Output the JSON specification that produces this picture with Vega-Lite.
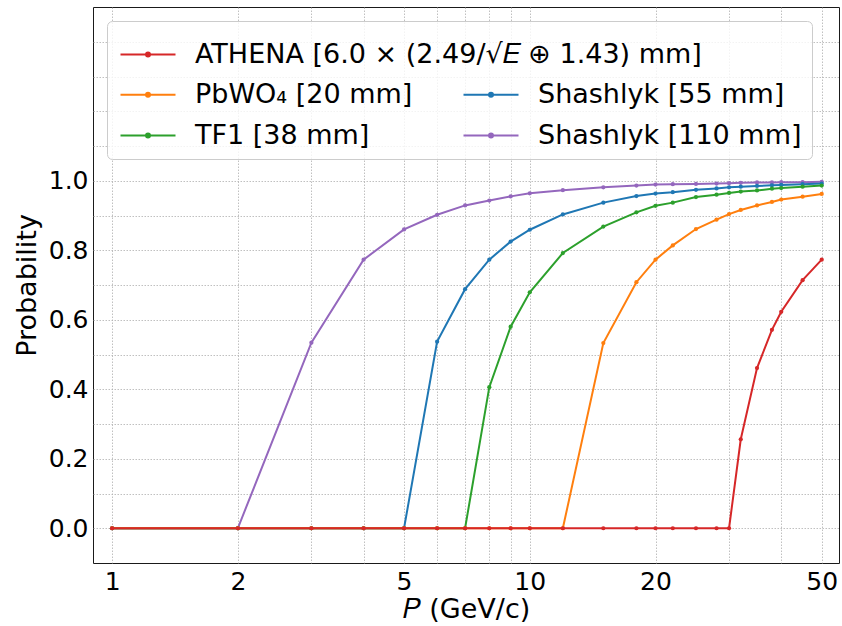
{
  "$schema": "https://vega.github.io/schema/vega-lite/v6.json",
  "width": 746,
  "height": 556,
  "autosize": {"type": "none"},
  "padding": {"left": 93, "top": 7, "right": 3, "bottom": 63},
  "background": "white",
  "config": {
    "font": "DejaVu Sans",
    "view": {"stroke": "#1a1a1a", "strokeWidth": 1},
    "axis": {
      "labelFont": "DejaVu Sans",
      "labelFontSize": 25,
      "labelColor": "#000000",
      "titleFont": "DejaVu Sans",
      "titleFontSize": 27,
      "titleFontWeight": "normal",
      "titleColor": "#000000",
      "gridColor": "#b0b0b0",
      "gridDash": [1.5, 1.5],
      "gridWidth": 0.8,
      "domain": false,
      "ticks": false,
      "labelOverlap": false
    },
    "legend": {
      "labelFont": "DejaVu Sans",
      "labelFontSize": 27,
      "labelColor": "#000000",
      "labelLimit": 0,
      "symbolType": "M-1,0H4.5M1.95,0A0.2,0.2 0 1,1 1.55,0A0.2,0.2 0 1,1 1.95,0Z",
      "symbolSize": 400,
      "symbolStrokeWidth": 2,
      "labelOffset": 51
    }
  },
  "datasets": {
    "probs": [
      {"det": "Shashlyk [110 mm]", "p": 1, "prob": 0},
      {"det": "Shashlyk [110 mm]", "p": 2, "prob": 0},
      {"det": "Shashlyk [110 mm]", "p": 3, "prob": 0.534},
      {"det": "Shashlyk [110 mm]", "p": 4, "prob": 0.773},
      {"det": "Shashlyk [110 mm]", "p": 5, "prob": 0.860},
      {"det": "Shashlyk [110 mm]", "p": 6, "prob": 0.902},
      {"det": "Shashlyk [110 mm]", "p": 7, "prob": 0.929},
      {"det": "Shashlyk [110 mm]", "p": 8, "prob": 0.943},
      {"det": "Shashlyk [110 mm]", "p": 9, "prob": 0.955},
      {"det": "Shashlyk [110 mm]", "p": 10, "prob": 0.964},
      {"det": "Shashlyk [110 mm]", "p": 12, "prob": 0.973},
      {"det": "Shashlyk [110 mm]", "p": 15, "prob": 0.981},
      {"det": "Shashlyk [110 mm]", "p": 18, "prob": 0.986},
      {"det": "Shashlyk [110 mm]", "p": 20, "prob": 0.989},
      {"det": "Shashlyk [110 mm]", "p": 22, "prob": 0.990},
      {"det": "Shashlyk [110 mm]", "p": 25, "prob": 0.991},
      {"det": "Shashlyk [110 mm]", "p": 28, "prob": 0.992},
      {"det": "Shashlyk [110 mm]", "p": 30, "prob": 0.993},
      {"det": "Shashlyk [110 mm]", "p": 32, "prob": 0.994},
      {"det": "Shashlyk [110 mm]", "p": 35, "prob": 0.995},
      {"det": "Shashlyk [110 mm]", "p": 38, "prob": 0.995},
      {"det": "Shashlyk [110 mm]", "p": 40, "prob": 0.996},
      {"det": "Shashlyk [110 mm]", "p": 45, "prob": 0.996},
      {"det": "Shashlyk [110 mm]", "p": 50, "prob": 0.997},
      {"det": "Shashlyk [55 mm]", "p": 1, "prob": 0},
      {"det": "Shashlyk [55 mm]", "p": 2, "prob": 0},
      {"det": "Shashlyk [55 mm]", "p": 3, "prob": 0},
      {"det": "Shashlyk [55 mm]", "p": 4, "prob": 0},
      {"det": "Shashlyk [55 mm]", "p": 5, "prob": 0},
      {"det": "Shashlyk [55 mm]", "p": 6, "prob": 0.537},
      {"det": "Shashlyk [55 mm]", "p": 7, "prob": 0.688},
      {"det": "Shashlyk [55 mm]", "p": 8, "prob": 0.773},
      {"det": "Shashlyk [55 mm]", "p": 9, "prob": 0.825},
      {"det": "Shashlyk [55 mm]", "p": 10, "prob": 0.859},
      {"det": "Shashlyk [55 mm]", "p": 12, "prob": 0.903},
      {"det": "Shashlyk [55 mm]", "p": 15, "prob": 0.937},
      {"det": "Shashlyk [55 mm]", "p": 18, "prob": 0.956},
      {"det": "Shashlyk [55 mm]", "p": 20, "prob": 0.963},
      {"det": "Shashlyk [55 mm]", "p": 22, "prob": 0.967},
      {"det": "Shashlyk [55 mm]", "p": 25, "prob": 0.974},
      {"det": "Shashlyk [55 mm]", "p": 28, "prob": 0.978},
      {"det": "Shashlyk [55 mm]", "p": 30, "prob": 0.981},
      {"det": "Shashlyk [55 mm]", "p": 32, "prob": 0.983},
      {"det": "Shashlyk [55 mm]", "p": 35, "prob": 0.985},
      {"det": "Shashlyk [55 mm]", "p": 38, "prob": 0.987},
      {"det": "Shashlyk [55 mm]", "p": 40, "prob": 0.988},
      {"det": "Shashlyk [55 mm]", "p": 45, "prob": 0.990},
      {"det": "Shashlyk [55 mm]", "p": 50, "prob": 0.992},
      {"det": "TF1 [38 mm]", "p": 1, "prob": 0},
      {"det": "TF1 [38 mm]", "p": 2, "prob": 0},
      {"det": "TF1 [38 mm]", "p": 3, "prob": 0},
      {"det": "TF1 [38 mm]", "p": 4, "prob": 0},
      {"det": "TF1 [38 mm]", "p": 5, "prob": 0},
      {"det": "TF1 [38 mm]", "p": 6, "prob": 0},
      {"det": "TF1 [38 mm]", "p": 7, "prob": 0},
      {"det": "TF1 [38 mm]", "p": 8, "prob": 0.406},
      {"det": "TF1 [38 mm]", "p": 9, "prob": 0.580},
      {"det": "TF1 [38 mm]", "p": 10, "prob": 0.679},
      {"det": "TF1 [38 mm]", "p": 12, "prob": 0.792},
      {"det": "TF1 [38 mm]", "p": 15, "prob": 0.868},
      {"det": "TF1 [38 mm]", "p": 18, "prob": 0.909},
      {"det": "TF1 [38 mm]", "p": 20, "prob": 0.928},
      {"det": "TF1 [38 mm]", "p": 22, "prob": 0.937},
      {"det": "TF1 [38 mm]", "p": 25, "prob": 0.953},
      {"det": "TF1 [38 mm]", "p": 28, "prob": 0.960},
      {"det": "TF1 [38 mm]", "p": 30, "prob": 0.965},
      {"det": "TF1 [38 mm]", "p": 32, "prob": 0.969},
      {"det": "TF1 [38 mm]", "p": 35, "prob": 0.972},
      {"det": "TF1 [38 mm]", "p": 38, "prob": 0.977},
      {"det": "TF1 [38 mm]", "p": 40, "prob": 0.979},
      {"det": "TF1 [38 mm]", "p": 45, "prob": 0.983},
      {"det": "TF1 [38 mm]", "p": 50, "prob": 0.986},
      {"det": "PbWO₄ [20 mm]", "p": 1, "prob": 0},
      {"det": "PbWO₄ [20 mm]", "p": 2, "prob": 0},
      {"det": "PbWO₄ [20 mm]", "p": 3, "prob": 0},
      {"det": "PbWO₄ [20 mm]", "p": 4, "prob": 0},
      {"det": "PbWO₄ [20 mm]", "p": 5, "prob": 0},
      {"det": "PbWO₄ [20 mm]", "p": 6, "prob": 0},
      {"det": "PbWO₄ [20 mm]", "p": 7, "prob": 0},
      {"det": "PbWO₄ [20 mm]", "p": 8, "prob": 0},
      {"det": "PbWO₄ [20 mm]", "p": 9, "prob": 0},
      {"det": "PbWO₄ [20 mm]", "p": 10, "prob": 0},
      {"det": "PbWO₄ [20 mm]", "p": 12, "prob": 0},
      {"det": "PbWO₄ [20 mm]", "p": 15, "prob": 0.533},
      {"det": "PbWO₄ [20 mm]", "p": 18, "prob": 0.708},
      {"det": "PbWO₄ [20 mm]", "p": 20, "prob": 0.773},
      {"det": "PbWO₄ [20 mm]", "p": 22, "prob": 0.814},
      {"det": "PbWO₄ [20 mm]", "p": 25, "prob": 0.861},
      {"det": "PbWO₄ [20 mm]", "p": 28, "prob": 0.888},
      {"det": "PbWO₄ [20 mm]", "p": 30, "prob": 0.904},
      {"det": "PbWO₄ [20 mm]", "p": 32, "prob": 0.916},
      {"det": "PbWO₄ [20 mm]", "p": 35, "prob": 0.929},
      {"det": "PbWO₄ [20 mm]", "p": 38, "prob": 0.939},
      {"det": "PbWO₄ [20 mm]", "p": 40, "prob": 0.946},
      {"det": "PbWO₄ [20 mm]", "p": 45, "prob": 0.954},
      {"det": "PbWO₄ [20 mm]", "p": 50, "prob": 0.962},
      {"det": "ATHENA [6.0 × (2.49/√𝐸 ⊕ 1.43) mm]", "p": 1, "prob": 0},
      {"det": "ATHENA [6.0 × (2.49/√𝐸 ⊕ 1.43) mm]", "p": 2, "prob": 0},
      {"det": "ATHENA [6.0 × (2.49/√𝐸 ⊕ 1.43) mm]", "p": 3, "prob": 0},
      {"det": "ATHENA [6.0 × (2.49/√𝐸 ⊕ 1.43) mm]", "p": 4, "prob": 0},
      {"det": "ATHENA [6.0 × (2.49/√𝐸 ⊕ 1.43) mm]", "p": 5, "prob": 0},
      {"det": "ATHENA [6.0 × (2.49/√𝐸 ⊕ 1.43) mm]", "p": 6, "prob": 0},
      {"det": "ATHENA [6.0 × (2.49/√𝐸 ⊕ 1.43) mm]", "p": 7, "prob": 0},
      {"det": "ATHENA [6.0 × (2.49/√𝐸 ⊕ 1.43) mm]", "p": 8, "prob": 0},
      {"det": "ATHENA [6.0 × (2.49/√𝐸 ⊕ 1.43) mm]", "p": 9, "prob": 0},
      {"det": "ATHENA [6.0 × (2.49/√𝐸 ⊕ 1.43) mm]", "p": 10, "prob": 0},
      {"det": "ATHENA [6.0 × (2.49/√𝐸 ⊕ 1.43) mm]", "p": 12, "prob": 0},
      {"det": "ATHENA [6.0 × (2.49/√𝐸 ⊕ 1.43) mm]", "p": 15, "prob": 0},
      {"det": "ATHENA [6.0 × (2.49/√𝐸 ⊕ 1.43) mm]", "p": 18, "prob": 0},
      {"det": "ATHENA [6.0 × (2.49/√𝐸 ⊕ 1.43) mm]", "p": 20, "prob": 0},
      {"det": "ATHENA [6.0 × (2.49/√𝐸 ⊕ 1.43) mm]", "p": 22, "prob": 0},
      {"det": "ATHENA [6.0 × (2.49/√𝐸 ⊕ 1.43) mm]", "p": 25, "prob": 0},
      {"det": "ATHENA [6.0 × (2.49/√𝐸 ⊕ 1.43) mm]", "p": 28, "prob": 0},
      {"det": "ATHENA [6.0 × (2.49/√𝐸 ⊕ 1.43) mm]", "p": 30, "prob": 0},
      {"det": "ATHENA [6.0 × (2.49/√𝐸 ⊕ 1.43) mm]", "p": 32, "prob": 0.256},
      {"det": "ATHENA [6.0 × (2.49/√𝐸 ⊕ 1.43) mm]", "p": 35, "prob": 0.461},
      {"det": "ATHENA [6.0 × (2.49/√𝐸 ⊕ 1.43) mm]", "p": 38, "prob": 0.571},
      {"det": "ATHENA [6.0 × (2.49/√𝐸 ⊕ 1.43) mm]", "p": 40, "prob": 0.623},
      {"det": "ATHENA [6.0 × (2.49/√𝐸 ⊕ 1.43) mm]", "p": 45, "prob": 0.714},
      {"det": "ATHENA [6.0 × (2.49/√𝐸 ⊕ 1.43) mm]", "p": 50, "prob": 0.773}
    ]
  },
  "encoding": {
    "x": {
      "field": "p",
      "type": "quantitative",
      "scale": {"type": "log", "domain": [0.9, 55], "nice": false},
      "axis": {
        "title": "𝑃 (GeV/c)",
        "values": [1, 2, 3, 4, 5, 6, 7, 8, 9, 10, 20, 30, 40, 50],
        "labelExpr": "(datum.value == 1 || datum.value == 2 || datum.value == 5 || datum.value == 10 || datum.value == 20 || datum.value == 50) ? format(datum.value, 'd') : ''",
        "labelPadding": 6,
        "titlePadding": 2
      }
    },
    "y": {
      "field": "prob",
      "type": "quantitative",
      "scale": {"domain": [-0.1, 1.5], "nice": false, "zero": false},
      "axis": {
        "title": "Probability",
        "values": [0, 0.1, 0.2, 0.3, 0.4, 0.5, 0.6, 0.7, 0.8, 0.9, 1.0, 1.1, 1.2, 1.3, 1.4],
        "labelExpr": "(datum.value <= 1.001 && round(datum.value * 10) % 2 == 0) ? format(datum.value, '.1f') : ''",
        "labelPadding": 5,
        "titlePadding": 7
      }
    }
  },
  "layer": [
    {
      "data": {"name": "probs"},
      "transform": [{"filter": {"field": "det", "oneOf": ["PbWO₄ [20 mm]", "Shashlyk [55 mm]", "TF1 [38 mm]", "Shashlyk [110 mm]"]}}],
      "mark": {"type": "line", "strokeWidth": 2, "point": {"filled": true, "size": 18}},
      "encoding": {
        "color": {
          "field": "det",
          "type": "nominal",
          "scale": {
            "domain": ["PbWO₄ [20 mm]", "TF1 [38 mm]", "Shashlyk [55 mm]", "Shashlyk [110 mm]"],
            "range": ["#ff7f0e", "#2ca02c", "#1f77b4", "#9467bd"]
          },
          "legend": {
            "orient": "none",
            "legendX": 14,
            "legendY": 14,
            "columns": 2,
            "title": " ",
            "titleFontSize": 27,
            "titlePadding": 23,
            "columnPadding": 46,
            "rowPadding": 13,
            "padding": 10,
            "strokeColor": "#cccccc",
            "fillColor": "rgba(255,255,255,0.8)",
            "cornerRadius": 5
          }
        }
      }
    },
    {
      "data": {"name": "probs"},
      "transform": [{"filter": {"field": "det", "equal": "ATHENA [6.0 × (2.49/√𝐸 ⊕ 1.43) mm]"}}],
      "mark": {"type": "line", "strokeWidth": 2, "point": {"filled": true, "size": 18}},
      "encoding": {
        "color": {
          "field": "det",
          "type": "nominal",
          "scale": {"domain": ["ATHENA [6.0 × (2.49/√𝐸 ⊕ 1.43) mm]"], "range": ["#d62728"]},
          "legend": {
            "orient": "none",
            "legendX": 24,
            "legendY": 34,
            "title": null,
            "padding": 0
          }
        }
      }
    }
  ],
  "resolve": {"scale": {"color": "independent"}, "legend": {"color": "independent"}}
}
